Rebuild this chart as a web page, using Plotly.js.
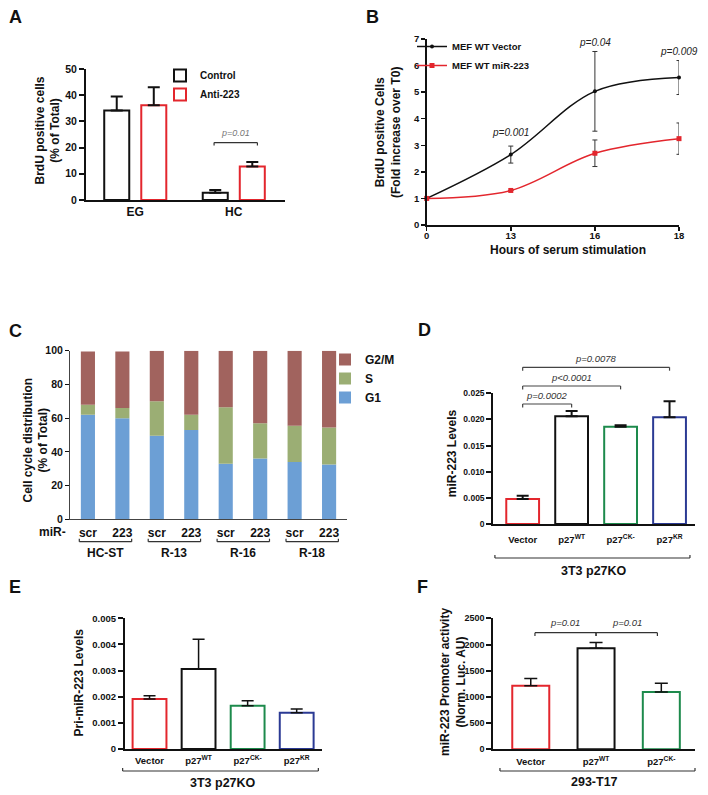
<!DOCTYPE html>
<html><head><meta charset="utf-8">
<script src="https://cdn.plot.ly/plotly-3.0.1.min.js"></script>
<style>html,body{margin:0;padding:0;background:#fff}#chart{width:708px;height:795px}</style>
</head><body><div id="chart"></div>
<script>
// ---------- Panel A ----------
const aGroups = ['EG', 'HC'];
const aControl = [34.2, 2.8];
const aControlErr = [5.3, 1.0];
const aAnti = [36.2, 12.8];
const aAntiErr = [6.8, 1.7];
// ---------- Panel B ----------
const bHours = ['0', '13', '16', '18'];
const bVector = [1.0, 2.65, 5.03, 5.55];
const bVectorErr = [0, 0.32, 1.5, 0.64];
const bMir = [1.0, 1.3, 2.7, 3.25];
const bMirErr = [0, 0, 0.5, 0.59];
const bPText = ['p=0.001', 'p=0.04', 'p=0.009'];
const bPHours = ['13', '16', '18'];
// ---------- Panel C ----------
const cConds = ['scr', '223', 'scr', '223', 'scr', '223', 'scr', '223'];
const cGroups = ['HC-ST', 'R-13', 'R-16', 'R-18'];
const cG1 = [62, 60, 49.5, 53, 33, 36, 34, 32.5];
const cS = [6, 6, 20.5, 9, 33.5, 21, 21.5, 22];
const cG2M = [31.5, 33.5, 30, 38, 33.5, 43, 44.5, 45.5];
// ---------- Panel D ----------
const dLabels = ['Vector', 'p27<sup>WT</sup>', 'p27<sup>CK-</sup>', 'p27<sup>KR</sup>'];
const dValues = [0.0048, 0.0206, 0.0186, 0.0204];
const dErr = [0.0006, 0.001, 0.0003, 0.0031];
const dTicks = [0, 0.005, 0.010, 0.015, 0.020, 0.025];
const dTickText = ['0', '0.005', '0.010', '0.015', '0.020', '0.025'];
const dPText = ['p=0.0002', 'p<0.0001', 'p=0.0078'];
// ---------- Panel E ----------
const eLabels = ['Vector', 'p27<sup>WT</sup>', 'p27<sup>CK-</sup>', 'p27<sup>KR</sup>'];
const eValues = [0.00191, 0.00306, 0.00165, 0.00139];
const eErr = [0.00013, 0.00114, 0.0002, 0.00014];
const eTicks = [0, 0.001, 0.002, 0.003, 0.004, 0.005];
const eTickText = ['0', '0.001', '0.002', '0.003', '0.004', '0.005'];
// ---------- Panel F ----------
const fLabels = ['Vector', 'p27<sup>WT</sup>', 'p27<sup>CK-</sup>'];
const fValues = [1215, 1927, 1094];
const fErr = [134, 109, 166];
const fPText = ['p=0.01', 'p=0.01'];

// ---------- styling helpers ----------
const FONT = 'Liberation Sans, Arial, Helvetica, sans-serif';
const INK = '#111';
const RED = '#e3262d', GREEN = '#1d8a4c', BLUE = '#2b3a94';
const X = px => px / 708, Y = py => 1 - py / 795;
const zeros = arr => arr.map(() => 0);

function yAxis(o) {
  return Object.assign({showline: true, linecolor: INK, linewidth: 2, ticks: 'outside', ticklen: 5,
    tickwidth: 2, tickcolor: INK, showgrid: false, zeroline: false,
    tickfont: {family: FONT, size: 10, color: INK, weight: 'bold'}}, o);
}
function xAxis(o) {
  return Object.assign({showline: true, linecolor: INK, linewidth: 2, ticks: '', showgrid: false,
    zeroline: false, tickfont: {family: FONT, size: 10, color: INK, weight: 'bold'}}, o);
}
function errUp(arr, thick, w) {
  return {type: 'data', symmetric: false, array: arr, arrayminus: zeros(arr), color: INK, thickness: thick, width: w, visible: true};
}

// ---------- traces ----------
const traces = [];
// A
traces.push({type: 'bar', name: 'Control', x: aGroups, y: aControl, width: 0.254, offset: -0.315,
  marker: {color: '#fff', line: {color: INK, width: 2}}, error_y: errUp(aControlErr, 2, 6),
  xaxis: 'x', yaxis: 'y', legend: 'legend'});
traces.push({type: 'bar', name: 'Anti-223', x: aGroups, y: aAnti, width: 0.254, offset: 0.061,
  marker: {color: '#fff', line: {color: RED, width: 2}}, error_y: errUp(aAntiErr, 2, 6),
  xaxis: 'x', yaxis: 'y', legend: 'legend'});
// B
traces.push({type: 'scatter', mode: 'lines+markers', name: 'MEF WT Vector', x: bHours, y: bVector,
  line: {shape: 'spline', smoothing: 1, color: INK, width: 1.5}, marker: {symbol: 'circle', size: 4, color: INK},
  error_y: {type: 'data', array: bVectorErr, color: '#333', thickness: 1, width: 2.5},
  cliponaxis: false, xaxis: 'x2', yaxis: 'y2', legend: 'legend2'});
traces.push({type: 'scatter', mode: 'lines+markers', name: 'MEF WT miR-223', x: bHours, y: bMir,
  line: {shape: 'spline', smoothing: 1, color: RED, width: 1.5}, marker: {symbol: 'square', size: 5, color: RED},
  error_y: {type: 'data', array: bMirErr, color: '#333', thickness: 1, width: 2.5},
  cliponaxis: false, xaxis: 'x2', yaxis: 'y2', legend: 'legend2'});
// C (stacked via base)
const cX = cConds.map((_, i) => i);
const cSBase = cG1.slice();
const cG2MBase = cG1.map((v, i) => v + cS[i]);
traces.push({type: 'bar', name: 'G1', x: cX, y: cG1, width: 0.41, marker: {color: '#6c9fd5'},
  xaxis: 'x3', yaxis: 'y3', legend: 'legend3'});
traces.push({type: 'bar', name: 'S', x: cX, y: cS, base: cSBase, width: 0.41, marker: {color: '#9bae74'},
  xaxis: 'x3', yaxis: 'y3', legend: 'legend3'});
traces.push({type: 'bar', name: 'G2/M', x: cX, y: cG2M, base: cG2MBase, width: 0.41, marker: {color: '#a1635e'},
  xaxis: 'x3', yaxis: 'y3', legend: 'legend3'});
// D
traces.push({type: 'bar', x: dLabels, y: dValues, width: 0.67, showlegend: false,
  marker: {color: '#fff', line: {color: [RED, INK, GREEN, BLUE], width: 2}}, error_y: errUp(dErr, 2, 6),
  xaxis: 'x4', yaxis: 'y4'});
// E
traces.push({type: 'bar', x: eLabels, y: eValues, width: 0.69, showlegend: false,
  marker: {color: '#fff', line: {color: [RED, INK, GREEN, BLUE], width: 2}}, error_y: errUp(eErr, 1.5, 6),
  xaxis: 'x5', yaxis: 'y5'});
// F
traces.push({type: 'bar', x: fLabels, y: fValues, width: 0.567, showlegend: false,
  marker: {color: '#fff', line: {color: [RED, INK, GREEN], width: 2}}, error_y: errUp(fErr, 1.5, 6.5),
  xaxis: 'x6', yaxis: 'y6'});

// ---------- shapes (brackets) ----------
const shapes = [];
function bracket(xref, yref, x0, x1, y, dy, color, width) {
  const line = {color: color || '#333', width: width || 1.2};
  shapes.push({type: 'line', xref, yref, x0: x0, x1: x0, y0: y + dy, y1: y, line});
  shapes.push({type: 'line', xref, yref, x0: x0, x1: x1, y0: y, y1: y, line});
  shapes.push({type: 'line', xref, yref, x0: x1, x1: x1, y0: y + dy, y1: y, line});
}
// A
bracket('x', 'y', 0.8, 1.24, 21.9, -1.1, '#333', 1.2);
// C group brackets (under pairs)
cGroups.forEach((g, k) => bracket('x3', 'paper', 2 * k - 0.25, 2 * k + 1.27, Y(541.7), 3 / 795, '#333', 1.2));
// D significance brackets (above plot, y in domain fraction)
const dLevels = [0.918, 1.056, 1.199];
dLevels.forEach((lv, k) => bracket('x4', 'y4 domain', 0, k + 1, lv, -0.026, '#444', 1.2));
// D/E/F group brackets
bracket('x4 domain', 'paper', 0.008, 0.975, Y(558), 3 / 795, '#333', 1.2);
bracket('x5 domain', 'paper', -0.012, 0.983, Y(771), 3 / 795, '#333', 1.2);
bracket('x6 domain', 'paper', 0.033, 1.0, Y(771), 3 / 795, '#333', 1.2);
// F significance brackets
bracket('x6', 'y6', 0.064, 1.0, 2225, -63, '#333', 1.2);
bracket('x6', 'y6', 1.0, 1.94, 2225, -63, '#333', 1.2);

// ---------- annotations ----------
const annotations = [];
function ann(text, xref, yref, x, y, o) {
  annotations.push(Object.assign({text, xref, yref, x, y, showarrow: false, xanchor: 'center', yanchor: 'middle',
    font: {family: FONT, size: 12, color: INK, weight: 'bold'}}, o || {}));
}
const boldFont = s => ({family: FONT, size: s, color: INK, weight: 'bold'});
// panel letters
[['A', 15, 17], ['B', 372, 17], ['C', 15.5, 330.5], ['D', 424, 330], ['E', 15, 587], ['F', 422, 587]]
  .forEach(([t, px, py]) => ann(t, 'paper', 'paper', X(px), Y(py), {font: boldFont(18)}));
// axis titles
const yTitles = [
  ['BrdU positive cells<br>(% of Total)', 48, 130.5],
  ['BrdU positive Cells<br>(Fold increase over T0)', 388.5, 132.5],
  ['Cell cycle distribution<br>(% of Total)', 35.5, 440],
  ['miR-223 Levels', 451.7, 453.5],
  ['Pri-miR-223 Levels', 78, 682.5],
  ['miR-223 Promoter activity<br>(Norm. Luc. AU)', 453, 682]
];
yTitles.forEach(([t, px, py]) => ann(t, 'paper', 'paper', X(px), Y(py), {textangle: -90, font: boldFont(12)}));
ann('Hours of serum stimulation', 'x2 domain', 'paper', 0.56, Y(250), {font: boldFont(12)});

const pFont = (c, s) => ({family: FONT, size: s, color: c, style: 'italic'});
// A p-value
ann('p=0.01', 'x', 'y', 1.02, 21.9, {yanchor: 'bottom', yshift: 3, font: pFont('#777', 9)});
// B p-values (x given as category index)
const bPShift = [6, 1, 2];
bPText.forEach((t, k) => {
  const i = bHours.indexOf(bPHours[k]);
  ann(t, 'x2', 'y2', i, bVector[i] + bVectorErr[i], {yanchor: 'bottom', yshift: bPShift[k], font: pFont('#222', 10)});
});
// C labels
ann('miR-', 'paper', 'paper', X(52), Y(531.7), {font: boldFont(12)});
cGroups.forEach((g, k) => ann(g, 'x3', 'paper', 2 * k + 0.5, Y(553), {font: boldFont(12)}));
// D p-values
dPText.forEach((t, k) => ann(t, 'x4', 'y4 domain', (k + 1) / 2, dLevels[k], {yanchor: 'bottom', yshift: 1, font: pFont('#333', 9.5)}));
// group names
ann('3T3 p27KO', 'x4 domain', 'paper', 0.5, Y(570.5), {font: boldFont(12.5)});
ann('3T3 p27KO', 'x5 domain', 'paper', 0.5, Y(783), {font: boldFont(12.5)});
ann('293-T17', 'x6 domain', 'paper', 0.5, Y(782), {font: boldFont(12.5)});
// F p-values
fPText.forEach((t, k) => ann(t, 'x6', 'y6', k === 0 ? 0.53 : 1.47, 2225, {yanchor: 'bottom', yshift: 3, font: pFont('#333', 9.5)}));

// ---------- layout ----------
const legendBase = {bgcolor: 'rgba(0,0,0,0)', borderwidth: 0, xanchor: 'left', yanchor: 'top', itemwidth: 30,
  itemclick: false, itemdoubleclick: false};
const layout = {
  width: 708, height: 795, margin: {l: 0, r: 0, t: 0, b: 0},
  paper_bgcolor: '#fff', plot_bgcolor: 'rgba(0,0,0,0)', barmode: 'overlay',
  font: {family: FONT, color: INK}, showlegend: true,
  legend: Object.assign({}, legendBase, {x: X(160), y: Y(61), font: boldFont(10)}),
  legend2: Object.assign({}, legendBase, {x: X(412), y: Y(32), font: boldFont(9.5)}),
  legend3: Object.assign({}, legendBase, {x: X(325), y: Y(345), traceorder: 'reversed', font: boldFont(12)}),

  xaxis: xAxis({domain: [X(86), X(285)], range: [-0.5, 1.52], anchor: 'y', type: 'category', tickfont: boldFont(12)}),
  yaxis: yAxis({domain: [Y(200), Y(69)], range: [0, 50], dtick: 10, anchor: 'x', tickfont: boldFont(10.5)}),

  xaxis2: xAxis({domain: [X(426.7), X(679)], range: [0, 3], anchor: 'y2', type: 'category', linewidth: 1.5,
    ticks: 'outside', ticklen: 4, tickwidth: 1.5, tickcolor: INK, ticklabelstandoff: -3, tickfont: boldFont(9.5)}),
  yaxis2: yAxis({domain: [Y(225), Y(39)], range: [0, 7], dtick: 1, anchor: 'x2', linewidth: 1.5,
    tickwidth: 1.5, ticklen: 4, tickfont: boldFont(9.5)}),

  xaxis3: xAxis({domain: [X(70), X(347)], range: [-0.52, 7.52], anchor: 'y3', linewidth: 1, linecolor: '#444',
    tickmode: 'array', tickvals: cX, ticktext: cConds, ticklabelstandoff: 2, tickfont: boldFont(12)}),
  yaxis3: yAxis({domain: [Y(519.3), Y(350.7)], range: [0, 100], dtick: 20, anchor: 'x3', linewidth: 1,
    linecolor: '#444', tickwidth: 1, ticklen: 4, tickfont: boldFont(10.5)}),

  xaxis4: xAxis({domain: [X(493.3), X(695)], range: [-0.6, 3.52], anchor: 'y4', type: 'category',
    ticklabelstandoff: 6, tickfont: boldFont(9.5)}),
  yaxis4: yAxis({domain: [Y(524), Y(393.3)], range: [0, 0.025], anchor: 'x4', tickmode: 'array',
    tickvals: dTicks, ticktext: dTickText, tickfont: boldFont(8.5)}),

  xaxis5: xAxis({domain: [X(125), X(321.7)], range: [-0.5, 3.51], anchor: 'y5', type: 'category',
    ticklabelstandoff: 2, tickfont: boldFont(9.5)}),
  yaxis5: yAxis({domain: [Y(749), Y(618.3)], range: [0, 0.005], anchor: 'x5', tickmode: 'array',
    tickvals: eTicks, ticktext: eTickText, tickfont: boldFont(9.5)}),

  xaxis6: xAxis({domain: [X(493.3), X(695)], range: [-0.574, 2.516], anchor: 'y6', type: 'category',
    ticklabelstandoff: 2, tickfont: boldFont(9.5)}),
  yaxis6: yAxis({domain: [Y(749.3), Y(618.3)], range: [0, 2500], dtick: 500, anchor: 'x6', tickfont: boldFont(9)}),

  shapes: shapes,
  annotations: annotations
};

Plotly.newPlot('chart', traces, layout, {staticPlot: true, displayModeBar: false});
</script>
</body></html>
